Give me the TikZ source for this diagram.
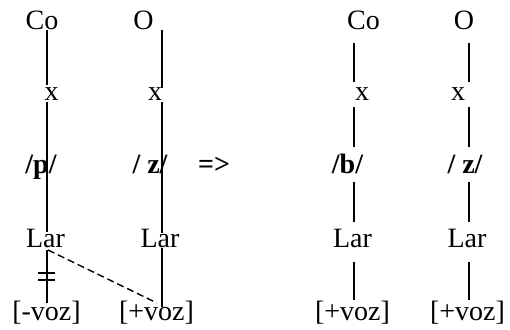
\documentclass[tikz,border=0pt]{standalone}
\usepackage{fontspec}
\setmainfont{Liberation Serif}
\usetikzlibrary{calc}
\begin{document}
\begin{tikzpicture}[x=1pt,y=1pt,
  lbl/.style={inner sep=0pt,outer sep=0pt,anchor=base,font=\fontsize{28}{34}\selectfont},
  blbl/.style={lbl,font=\fontsize{28}{34}\selectfont\bfseries},
  assoc/.style={line width=1.4pt},
  delink/.style={line width=1.4pt,dash pattern=on 7pt off 4pt}]
\useasboundingbox (0,0) rectangle (510,-329);
% column line positions
\coordinate (L1) at (47,0);
\coordinate (L2) at (162,0);
\coordinate (L3) at (354,0);
\coordinate (L4) at (469,0);
% left group
\node[lbl] (Co1) at (42,-30) {Co};
\node[lbl] (x1) at (51.5,-100) {x};
\node[blbl] (p1) at (41,-173) {/p/};
\node[lbl] (Lar1) at (45.5,-247) {Lar};
\node[lbl] (v1) at (46.5,-320) {[-voz]};
\node[lbl] (O2) at (143.5,-30) {O};
\node[lbl] (x2) at (155,-100) {x};
\node[blbl] (z2) at (150,-173) {/ z/};
\node[lbl] (Lar2) at (160,-247) {Lar};
\node[lbl] (v2) at (156.5,-320) {[+voz]};
% arrow
\node[blbl] (arr) at (214,-173) {=>};
% right group
\node[lbl] (Co3) at (363.5,-30) {Co};
\node[lbl] (x3) at (362,-100) {x};
\node[blbl] (b3) at (347.5,-173) {/b/};
\node[lbl] (Lar3) at (352.5,-247) {Lar};
\node[lbl] (v3) at (352.5,-320) {[+voz]};
\node[lbl] (O4) at (464,-30) {O};
\node[lbl] (x4) at (458,-100) {x};
\node[blbl] (z4) at (465,-173) {/ z/};
\node[lbl] (Lar4) at (467,-247) {Lar};
\node[lbl] (v4) at (467.5,-320) {[+voz]};
% column 1
\draw[assoc,shorten >=15pt] (L1|-Co1.base) -- (L1|-x1.base);
\draw[assoc,shorten <=2pt,shorten >=15pt] (L1|-x1.base) -- (L1|-Lar1.base);
\draw[assoc,shorten <=3pt,shorten >=17pt] (L1|-Lar1.base) -- (L1|-v1.base);
% column 2
\draw[assoc,shorten >=12pt] (L2|-O2.base) -- (L2|-x2.base);
\draw[assoc,shorten <=2pt,shorten >=14pt] (L2|-x2.base) -- (L2|-Lar2.base);
\draw[assoc,shorten <=1pt,shorten >=13pt] (L2|-Lar2.base) -- (L2|-v2.base);
% column 3
\draw[assoc,shorten <=13pt,shorten >=18pt] (L3|-Co3.base) -- (L3|-x3.base);
\draw[assoc,shorten <=7pt,shorten >=26pt] (L3|-x3.base) -- (L3|-b3.base);
\draw[assoc,shorten <=9pt,shorten >=25pt] (L3|-b3.base) -- (L3|-Lar3.base);
\draw[assoc,shorten <=15pt,shorten >=20pt] (L3|-Lar3.base) -- (L3|-v3.base);
% column 4
\draw[assoc,shorten <=13pt,shorten >=18pt] (L4|-O4.base) -- (L4|-x4.base);
\draw[assoc,shorten <=7pt,shorten >=26pt] (L4|-x4.base) -- (L4|-z4.base);
\draw[assoc,shorten <=9pt,shorten >=25pt] (L4|-z4.base) -- (L4|-Lar4.base);
\draw[assoc,shorten <=15pt,shorten >=20pt] (L4|-Lar4.base) -- (L4|-v4.base);
% delinking mark
\draw[line width=1.2pt] ($(L1|-Lar1.base)+(-9,-26)$) -- ($(L1|-Lar1.base)+(8,-26)$);
\draw[line width=1.2pt] ($(L1|-Lar1.base)+(-9,-33)$) -- ($(L1|-Lar1.base)+(8,-33)$);
% spreading
\draw[delink] ($(L1|-Lar1.base)+(1,-3)$) -- ($(L2|-v2.base)+(-5,17)$);
\end{tikzpicture}
\end{document}
